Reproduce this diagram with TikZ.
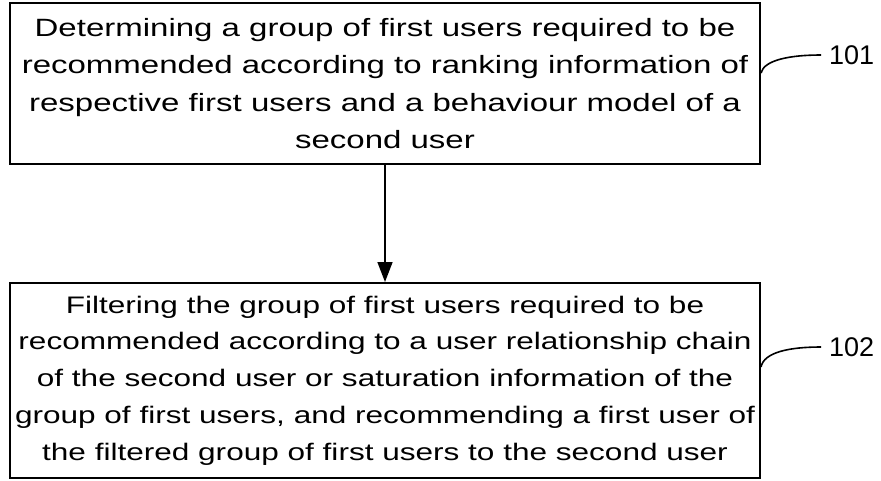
\documentclass[tikz,border=0pt]{standalone}
\usepackage{fontspec}
\setmainfont[FakeStretch=1.32]{Liberation Sans}
\newfontfamily\tagfont{Liberation Sans}
\usetikzlibrary{positioning,calc,arrows.meta}

\begin{document}
\begin{tikzpicture}[
      x=1pt, y=1pt,
      stepbox/.style={draw=black, line width=2pt, align=center, inner sep=0pt,
        minimum width=750pt},
      flow/.style={draw=black, line width=1.6pt, -{Triangle[length=20pt, width=15pt]}},
      lead/.style={draw=black, line width=1.6pt},
      tag/.style={anchor=west, inner sep=0pt, font=\tagfont\fontsize{27}{30}\selectfont}
    ]
    \useasboundingbox (0,0) rectangle (881,-480);

    % ---- the two steps ----
    \node[stepbox, minimum height=161pt, font=\fontsize{25}{37.5}\selectfont] (det) at (385,-83.5)
      {Determining a group of first users required to be\\
       recommended according to ranking information of\\
       respective first users and a behaviour model of a\\
       second user};
    \node[stepbox, minimum height=195pt, font=\fontsize{23.9}{36.8}\selectfont] (filt) at (385,-380.5)
      {Filtering the group of first users required to be\\
       recommended according to a user relationship chain\\
       of the second user or saturation information of the\\
       group of first users, and recommending a first user of\\
       the filtered group of first users to the second user};

    \draw[flow] (det) -- (filt);

    % ---- step numbers with leader curves ----
    \node[tag] (n101) at (829,-55) {101};
    \node[tag] (n102) at (829,-347) {102};
    \coordinate (e101) at ($(det.east)+(0,10.5)$);
    \coordinate (e102) at ($(filt.east)+(0,13.5)$);
    \draw[lead] (e101) .. controls (764,-60) and (790,-55) .. ($(n101.west)+(-8,0)$);
    \draw[lead] (e102) .. controls (764,-352) and (790,-347) .. ($(n102.west)+(-8,0)$);
  \end{tikzpicture}
\end{document}
